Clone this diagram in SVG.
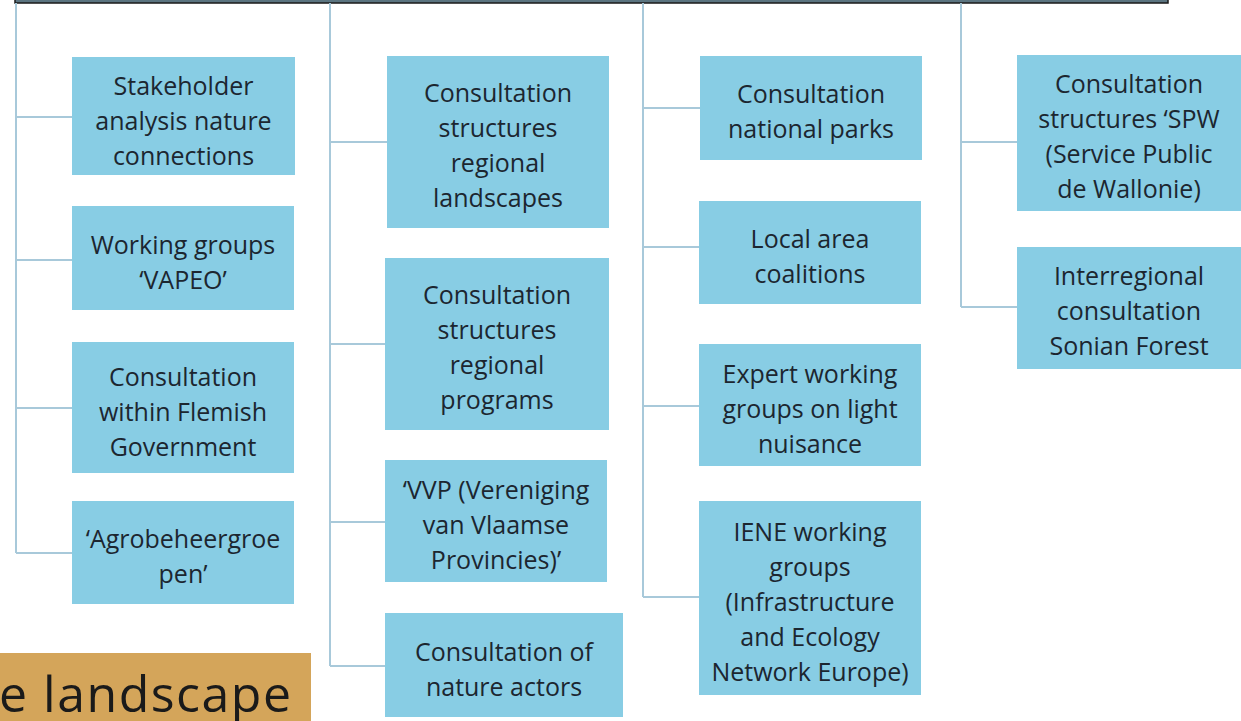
<svg xmlns="http://www.w3.org/2000/svg" width="1241" height="721" viewBox="0 0 1241 721">
<style>
.box{fill:#88cde4}
.lbl{font-family:"Open Sans","Liberation Sans",sans-serif;font-size:25px;fill:#1c2630;text-anchor:middle}
.con{stroke:#a8c9da;stroke-width:2;fill:none}
</style>
<rect width="1241" height="721" fill="#ffffff"/>
<rect x="15" y="-6" width="1153" height="9" fill="#5b7480" stroke="#1a1a1a" stroke-width="1.5"/>
<g id="connectors">
<path class="con" d="M16 3V553M16 117H72M16 260H72M16 408H72M16 553H72"/>
<path class="con" d="M330 3V666M330 142H387M330 344H385M330 522H385M330 666H385"/>
<path class="con" d="M643 3V597M643 108H700M643 247H699M643 406H699M643 597H699"/>
<path class="con" d="M961 3V307M961 142H1017M961 307H1017"/>
</g>
<g id="n1"><rect class="box" x="72" y="57" width="223" height="118"/><text class="lbl"><tspan x="183.5" y="95">Stakeholder</tspan><tspan x="183.5" y="130">analysis nature</tspan><tspan x="183.5" y="165">connections</tspan></text></g>
<g id="n2"><rect class="box" x="72" y="206" width="222" height="104"/><text class="lbl"><tspan x="183" y="254">Working groups</tspan><tspan x="183" y="289">‘VAPEO’</tspan></text></g>
<g id="n3"><rect class="box" x="72" y="342" width="222" height="131"/><text class="lbl"><tspan x="183" y="386">Consultation</tspan><tspan x="183" y="421">within Flemish</tspan><tspan x="183" y="456">Government</tspan></text></g>
<g id="n4"><rect class="box" x="72" y="501" width="222" height="103"/><text class="lbl"><tspan x="183" y="548">‘Agrobeheergroe</tspan><tspan x="183" y="583">pen’</tspan></text></g>
<g id="n5"><rect class="box" x="387" y="56" width="222" height="172"/><text class="lbl"><tspan x="498" y="102">Consultation</tspan><tspan x="498" y="137">structures</tspan><tspan x="498" y="172">regional</tspan><tspan x="498" y="207">landscapes</tspan></text></g>
<g id="n6"><rect class="box" x="385" y="258" width="224" height="172"/><text class="lbl"><tspan x="497" y="304">Consultation</tspan><tspan x="497" y="339">structures</tspan><tspan x="497" y="374">regional</tspan><tspan x="497" y="409">programs</tspan></text></g>
<g id="n7"><rect class="box" x="385" y="460" width="222" height="122"/><text class="lbl"><tspan x="496" y="499">‘VVP (Vereniging</tspan><tspan x="496" y="534">van Vlaamse</tspan><tspan x="496" y="569">Provincies)’</tspan></text></g>
<g id="n8"><rect class="box" x="385" y="613" width="238" height="104"/><text class="lbl"><tspan x="504" y="661">Consultation of</tspan><tspan x="504" y="696">nature actors</tspan></text></g>
<g id="n9"><rect class="box" x="700" y="56" width="222" height="104"/><text class="lbl"><tspan x="811" y="103">Consultation</tspan><tspan x="811" y="138">national parks</tspan></text></g>
<g id="n10"><rect class="box" x="699" y="201" width="222" height="103"/><text class="lbl"><tspan x="810" y="248">Local area</tspan><tspan x="810" y="283">coalitions</tspan></text></g>
<g id="n11"><rect class="box" x="699" y="344" width="222" height="122"/><text class="lbl"><tspan x="810" y="383">Expert working</tspan><tspan x="810" y="418">groups on light</tspan><tspan x="810" y="453">nuisance</tspan></text></g>
<g id="n12"><rect class="box" x="699" y="501" width="222" height="194"/><text class="lbl"><tspan x="810" y="541">IENE working</tspan><tspan x="810" y="576">groups</tspan><tspan x="810" y="611">(Infrastructure</tspan><tspan x="810" y="646">and Ecology</tspan><tspan x="810" y="681">Network Europe)</tspan></text></g>
<g id="n13"><rect class="box" x="1017" y="55" width="224" height="156"/><text class="lbl"><tspan x="1129" y="93">Consultation</tspan><tspan x="1129" y="128">structures ‘SPW</tspan><tspan x="1129" y="163">(Service Public</tspan><tspan x="1129" y="198">de Wallonie)</tspan></text></g>
<g id="n14"><rect class="box" x="1017" y="247" width="224" height="122"/><text class="lbl"><tspan x="1129" y="285">Interregional</tspan><tspan x="1129" y="320">consultation</tspan><tspan x="1129" y="355">Sonian Forest</tspan></text></g>
<g id="title"><rect x="-5" y="653" width="316" height="80" fill="#d4a55a"/><text x="-1" y="712" font-family="'Open Sans','Liberation Sans',sans-serif" font-size="50" fill="#1a1a1a" textLength="292" lengthAdjust="spacing">e landscape</text></g>
</svg>
